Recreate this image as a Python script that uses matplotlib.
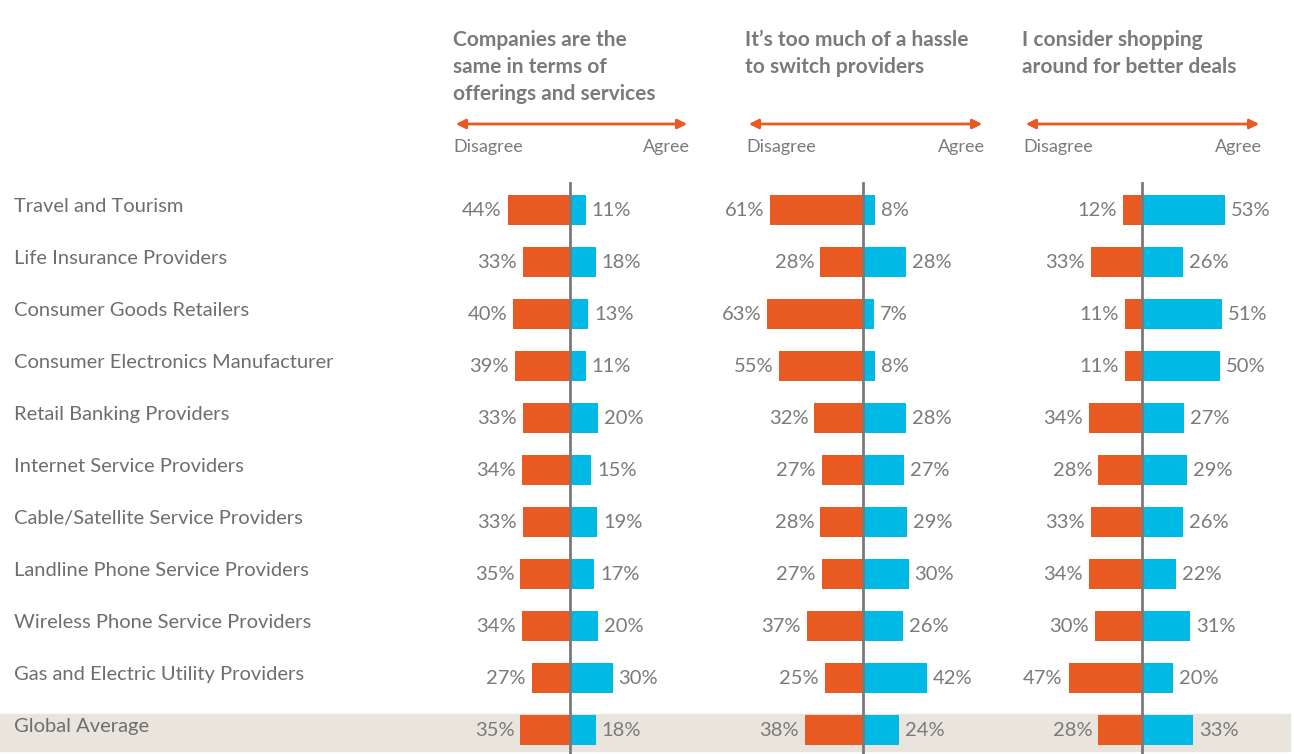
import matplotlib
matplotlib.use("Agg")
import matplotlib.pyplot as plt

categories = [
    "Travel and Tourism",
    "Life Insurance Providers",
    "Consumer Goods Retailers",
    "Consumer Electronics Manufacturer",
    "Retail Banking Providers",
    "Internet Service Providers",
    "Cable/Satellite Service Providers",
    "Landline Phone Service Providers",
    "Wireless Phone Service Providers",
    "Gas and Electric Utility Providers",
    "Global Average",
]

same_disagree = [44, 33, 40, 39, 33, 34, 33, 35, 34, 27, 35]
same_agree = [11, 18, 13, 11, 20, 15, 19, 17, 20, 30, 18]
hassle_disagree = [61, 28, 63, 55, 32, 27, 28, 27, 37, 25, 38]
hassle_agree = [8, 28, 7, 8, 28, 27, 29, 30, 26, 42, 24]
shop_disagree = [12, 33, 11, 11, 34, 28, 33, 34, 30, 47, 28]
shop_agree = [53, 26, 51, 50, 27, 29, 26, 22, 31, 20, 33]

panel_titles = [
    "Companies are the\nsame in terms of\nofferings and services",
    "It\u2019s too much of a hassle\nto switch providers",
    "I consider shopping\naround for better deals",
]

ORANGE = "#E95A23"
BLUE = "#00B9E4"
GRAY = "#7A7A7A"
BAND = "#E9E5DC"
FONT = "Lato"

W, H = 1294, 754
fig = plt.figure(figsize=(W / 100, H / 100), dpi=100)

# row index mapping: row i at pixel y = 210 + 52*i
def row_of(ypx):
    return (ypx - 210) / 52.0

ylim = (row_of(H), row_of(0))

bg = fig.add_axes([0, 0, 1, 1])
bg.set_xlim(0, W)
bg.set_ylim(*ylim)
bg.axis("off")
n = len(categories)
bg.axhspan(n - 1 - 0.31, n - 1 + 0.40, xmin=0, xmax=1290 / W, color=BAND, zorder=0)
for i, c in enumerate(categories):
    bg.text(14, i - 0.07, c, ha="left", va="center", fontsize=14.5,
            color="#6E6E6E", family=FONT)

centers = [570, 863, 1142]
scales = [1.42, 1.52, 1.56]  # px per percent
half_px = 150
panels = [
    (same_disagree, same_agree),
    (hassle_disagree, hassle_agree),
    (shop_disagree, shop_agree),
]
title_x = [453, 745, 1022]
arrow_span = [(453, 690), (746, 985), (1023, 1262)]

for p, (dis, agr) in enumerate(panels):
    cx = centers[p]
    scale = scales[p]
    ax = fig.add_axes([(cx - half_px) / W, 0, 2 * half_px / W, 1])
    ax.set_xlim(-half_px / scale, half_px / scale)
    ax.set_ylim(*ylim)
    ax.axis("off")
    ax.patch.set_alpha(0)
    rows = list(range(n))
    ax.barh(rows, [-v for v in dis], height=0.58, color=ORANGE, zorder=2)
    ax.barh(rows, agr, height=0.58, color=BLUE, zorder=2)
    ax.axvline(0, ymin=0, ymax=(H - 183) / H, color=GRAY, lw=2, zorder=3)
    for i in rows:
        ax.annotate(f"{dis[i]}%", xy=(-dis[i], i), xytext=(-6, 0),
                    textcoords="offset pixels", ha="right", va="center",
                    fontsize=14.5, color=GRAY, family=FONT)
        ax.annotate(f"{agr[i]}%", xy=(agr[i], i), xytext=(6, 0),
                    textcoords="offset pixels", ha="left", va="center",
                    fontsize=14.5, color=GRAY, family=FONT)

    # header
    fig.text(title_x[p] / W, 1 - 30 / H, panel_titles[p], ha="left", va="top",
             fontsize=15, fontweight="bold", color=GRAY, family=FONT,
             linespacing=1.43)
    x0, x1 = arrow_span[p]
    fig.patches.append(matplotlib.patches.FancyArrowPatch(
        (x0 / W, 1 - 124 / H), (x1 / W, 1 - 124 / H),
        transform=fig.transFigure, arrowstyle="<|-|>", mutation_scale=14,
        color=ORANGE, lw=2))
    fig.text(x0 / W, 1 - 147 / H, "Disagree", ha="left", va="center",
             fontsize=13, color=GRAY, family=FONT)
    fig.text(x1 / W, 1 - 147 / H, "Agree", ha="right", va="center",
             fontsize=13, color=GRAY, family=FONT)

fig.savefig("out.png", dpi=100, facecolor="white")
